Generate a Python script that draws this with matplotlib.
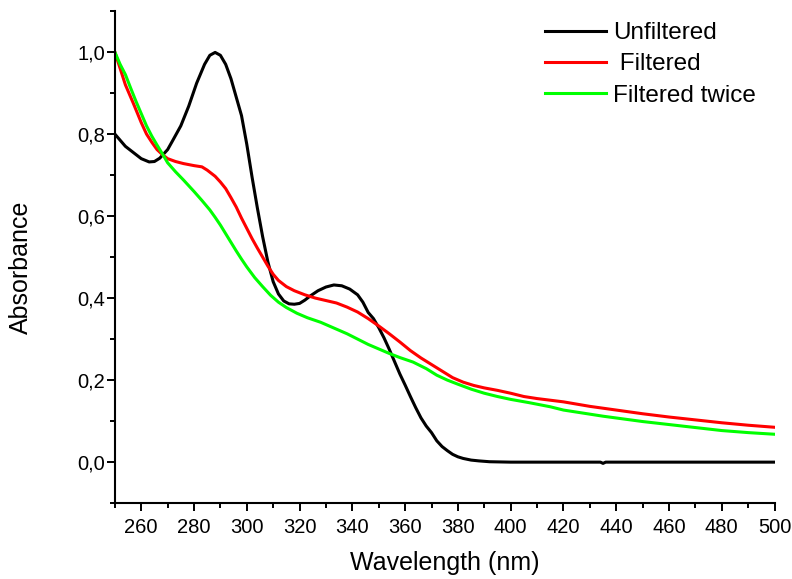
import matplotlib
matplotlib.use("Agg")
from matplotlib import pyplot as plt
from matplotlib.ticker import MultipleLocator

plt.rcParams['font.family'] = ['Liberation Sans', 'DejaVu Sans']

# Unfiltered
wl_unf = [250, 252, 254, 257, 260, 263, 265, 267, 270, 272, 275, 278, 281, 284, 286, 288,
          290, 292, 294, 296, 298, 300, 302, 304, 306, 308, 310, 312, 314, 316, 318, 320,
          322, 324, 327, 330, 333, 336, 339, 342, 344, 346, 348, 350, 352, 354, 356, 358,
          360, 362, 364, 366, 368, 370, 372, 374, 376, 378, 380, 382, 385, 388, 392, 400,
          434, 435, 436, 500]
abs_unf = [0.800, 0.785, 0.770, 0.755, 0.740, 0.732, 0.733, 0.741, 0.762, 0.785, 0.820, 0.868,
           0.924, 0.970, 0.992, 0.999, 0.992, 0.970, 0.935, 0.890, 0.845, 0.775, 0.695, 0.620,
           0.550, 0.488, 0.440, 0.410, 0.393, 0.386, 0.385, 0.387, 0.395, 0.405, 0.418, 0.427,
           0.432, 0.430, 0.422, 0.408, 0.390, 0.365, 0.350, 0.328, 0.303, 0.275, 0.245, 0.215,
           0.188, 0.160, 0.133, 0.108, 0.088, 0.072, 0.052, 0.038, 0.028, 0.019, 0.013, 0.009,
           0.005, 0.003, 0.001, 0.0, 0.0, -0.003, 0.0, 0.0]

# Filtered
wl_f = [250, 252, 254, 257, 260, 262, 264, 266, 268, 270, 273, 276, 280, 283, 285, 288,
        290, 292, 294, 296, 298, 300, 302, 304, 306, 308, 310, 312, 315, 318, 322, 326,
        330, 334, 338, 342, 346, 350, 354, 358, 362, 366, 370, 374, 378, 382, 386, 390,
        395, 400, 405, 410, 415, 420, 430, 440, 450, 460, 470, 480, 490, 500]
abs_f = [1.000, 0.960, 0.920, 0.875, 0.828, 0.800, 0.780, 0.762, 0.750, 0.740, 0.733, 0.728,
         0.723, 0.720, 0.712, 0.697, 0.683, 0.667, 0.645, 0.622, 0.595, 0.570, 0.545, 0.522,
         0.500, 0.478, 0.458, 0.443, 0.428, 0.418, 0.408, 0.400, 0.394, 0.388, 0.378, 0.366,
         0.350, 0.332, 0.313, 0.293, 0.272, 0.254, 0.238, 0.222, 0.206, 0.195, 0.187, 0.181,
         0.175, 0.168, 0.160, 0.155, 0.151, 0.147, 0.136, 0.127, 0.118, 0.110, 0.103, 0.096,
         0.090, 0.085]

# Filtered twice
wl_f2 = [250, 252, 254, 256, 258, 260, 262, 264, 266, 268, 270, 273, 276, 280, 283, 286,
         288, 290, 292, 294, 296, 298, 300, 303, 306, 309, 312, 315, 319, 323, 328, 333,
         338, 342, 346, 350, 354, 358, 363, 368, 372, 376, 380, 385, 390, 395, 400, 407,
         415, 420, 435, 450, 465, 480, 490, 500]
abs_f2 = [1.000, 0.970, 0.945, 0.912, 0.880, 0.850, 0.820, 0.795, 0.773, 0.752, 0.730, 0.708,
          0.688, 0.660, 0.638, 0.615, 0.597, 0.578, 0.557, 0.536, 0.515, 0.495, 0.476, 0.450,
          0.428, 0.407, 0.390, 0.377, 0.363, 0.352, 0.341, 0.327, 0.313, 0.300, 0.287, 0.276,
          0.265, 0.255, 0.244, 0.228, 0.212, 0.200, 0.190, 0.178, 0.168, 0.160, 0.153, 0.145,
          0.135, 0.127, 0.112, 0.099, 0.088, 0.077, 0.072, 0.068]

yticks = [0.0, 0.2, 0.4, 0.6, 0.8, 1.0]
ytick_labels = ["0,0", "0,2", "0,4", "0,6", "0,8", "1,0"]
xticks = [260, 280, 300, 320, 340, 360, 380, 400, 420, 440, 460, 480, 500]

fig = plt.figure(figsize=(7.92, 5.79), dpi=100)
ax = fig.add_axes([0.145, 0.131, 0.833, 0.850])

ax.plot(wl_unf, abs_unf, color="black", lw=2.2, label="Unfiltered")
ax.plot(wl_f, abs_f, color="#ff0000", lw=2.2, label=" Filtered")
ax.plot(wl_f2, abs_f2, color="#00ff00", lw=2.2, label="Filtered twice")

ax.set_xlim(250, 500)
ax.set_ylim(-0.1, 1.1)
ax.set_xticks(xticks)
ax.set_yticks(yticks)
ax.set_yticklabels(ytick_labels)
ax.xaxis.set_minor_locator(MultipleLocator(10))
ax.yaxis.set_minor_locator(MultipleLocator(0.1))

for s in ["top", "right"]:
    ax.spines[s].set_visible(False)
for s in ["left", "bottom"]:
    ax.spines[s].set_linewidth(1.5)

ax.tick_params(which="major", direction="out", length=6, width=1.4, labelsize=14.5)
ax.tick_params(which="minor", direction="out", length=3.5, width=1.4)
ax.tick_params(axis="y", which="major", pad=1)
ax.tick_params(axis="x", which="major", pad=5)

ax.set_xlabel("Wavelength (nm)", fontsize=18)
ax.set_ylabel("Absorbance", fontsize=18)
ax.xaxis.set_label_coords(0.5, -0.097)
ax.yaxis.set_label_coords(-0.124, 0.48)

fig.legend(loc="upper left", bbox_to_anchor=(0.688, 0.962), frameon=False,
           fontsize=17.5, handlelength=2.5, handletextpad=0.3, labelspacing=0.38,
           borderpad=0, borderaxespad=0)

plt.savefig("out.png", dpi=100)
